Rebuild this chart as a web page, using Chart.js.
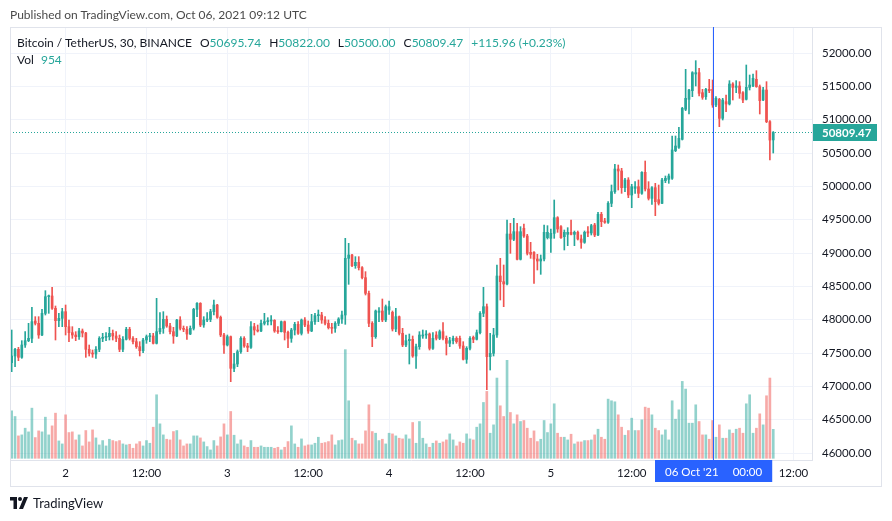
<!DOCTYPE html>
<html>
<head>
<meta charset="utf-8">
<script src="https://cdn.jsdelivr.net/npm/chart.js@4.4.1/dist/chart.umd.min.js"></script>
<style>
  html, body { margin: 0; padding: 0; background: #fff; }
  #wrap { position: relative; width: 892px; height: 521px; overflow: hidden; font-family: Lato, "Open Sans", sans-serif; }
  #chart { position: absolute; left: 0; top: 0; }
  #pub { position: absolute; left: 10px; top: 7px; font-size: 12px; color: #4a4a4a; }
  #legend { position: absolute; left: 17px; top: 34px; font-size: 12px; color: #131722; line-height: 17px; }
  #legend .v { color: #26a69a; }
  #legend .g { margin-left: 8px; }
  #brand { position: absolute; left: 10px; top: 495px; display: flex; align-items: center; font-size: 13px; color: #131722; }
  #brand svg { margin-right: 5px; }
</style>
</head>
<body>
<div id="wrap">
  <canvas id="chart" width="892" height="521"></canvas>
  <div id="pub">Published on TradingView.com, Oct 06, 2021 09:12 UTC</div>
  <div id="legend"><div id="l1"></div><div id="l2"></div></div>
  <div id="brand">
    <svg width="18" height="12" viewBox="0 0 36 24"><path d="M0 0h14v24H7V7H0z" fill="#131722"/><circle cx="20" cy="4" r="4" fill="#131722"/><path d="M28 0h8l-10 24h-8z" fill="#131722"/></svg>
    <span>TradingView</span>
  </div>
</div>
<script>
// BTCUSDT 30m candles, Oct 1 16:00 -> Oct 6 09:00 (UTC)
var opens = [
  47355,47455,47555,47435,47620,47685,47720,47980,47945,47770,
  48095,48345,48355,48170,47985,48020,48120,47895,47805,47770,
  47745,47830,47800,47555,47495,47485,47555,47720,47735,47745,
  47795,47755,47720,47555,47705,47855,47720,47670,47595,47535,
  47695,47745,47755,47645,47820,47870,48005,47905,47820,47755,
  47995,47870,47855,47785,47870,48155,48245,47920,47995,48005,
  48120,48220,48035,47770,47620,47745,47270,47335,47520,47720,
  47605,47585,47895,47845,47830,47945,47970,47980,47990,47830,
  47820,47970,47810,47720,47845,47930,47795,47995,47920,47830,
  47970,48060,48070,47995,47945,47880,47870,47945,48010,48070,
  48920,48970,48810,48860,48780,48630,48395,47945,47745,48110,
  48130,47995,48145,48110,47860,48045,47795,47620,47685,47705,
  47455,47595,47755,47770,47785,47570,47770,47720,47820,47720,
  47645,47685,47720,47720,47605,47405,47570,47735,47705,47805,
  48095,48195,47445,47495,47770,48655,48570,48535,49285,49205,
  49320,48905,49370,49255,49010,49010,48910,48880,48910,49230,
  49220,49295,49530,49395,49245,49280,49310,49280,49310,49210,
  49160,49320,49300,49420,49270,49580,49480,49460,49745,49920,
  50260,50230,49980,50095,49870,49970,49995,49895,50210,49960,
  49820,49980,49800,49745,50085,50105,50120,50535,50585,50705,
  51155,51305,51435,51685,51705,51405,51345,51455,51455,51220,
  51305,51020,51270,51235,51535,51485,51505,51405,51305,51485,
  51505,51605,51495,51295,51445,50970,50695.74
];
var highs = [
  47845,47570,47585,47685,47820,47945,48185,48045,48045,48155,
  48435,48370,48485,48205,48095,48170,48220,47995,47895,47820,
  47870,47860,47810,47620,47545,47595,47745,47795,47805,47885,
  47845,47820,47770,47745,47885,47885,47745,47720,47670,47720,
  47770,47795,47795,48320,48105,48120,48055,47945,47885,48005,
  48045,47905,47895,47905,48170,48255,48255,48045,48105,48155,
  48295,48230,48055,47795,47770,47755,47495,47545,47745,47745,
  47645,47970,47945,47920,47995,48095,48030,48060,48000,47895,
  47980,47980,47830,47870,47960,47970,48010,48030,47980,48080,
  48095,48145,48110,48045,47995,47945,47970,48030,48130,49220,
  49145,48980,48945,48945,48795,48720,48430,47970,48145,48180,
  48310,48220,48280,48130,48170,48055,47870,47770,47785,47755,
  47635,47820,47845,47835,47800,47805,47820,47845,47955,47755,
  47735,47755,47745,47755,47670,47595,47745,47755,47845,48120,
  48485,48235,47795,47870,48820,48920,48820,49495,49445,49520,
  49445,49395,49435,49280,49160,49020,48980,48970,49420,49410,
  49360,49795,49545,49410,49345,49380,49495,49330,49330,49270,
  49330,49395,49430,49445,49610,49610,49520,49770,50020,50330,
  50320,50270,50120,50130,50030,50070,50095,50220,50380,50070,
  49995,50045,50020,50120,50155,50185,50755,50755,50885,51185,
  51755,51455,51720,51885,51770,51455,51470,51605,51595,51345,
  51320,51320,51370,51585,51555,51585,51570,51420,51820,51670,
  51685,51735,51520,51485,51570,50985,50822
];
var lows = [
  47220,47295,47385,47420,47585,47670,47655,47920,47720,47760,
  48070,48095,48155,47695,47895,47895,47770,47670,47720,47685,
  47705,47740,47435,47455,47435,47420,47520,47670,47685,47695,
  47695,47670,47520,47520,47695,47695,47635,47570,47455,47505,
  47645,47670,47635,47635,47785,47795,47885,47785,47645,47745,
  47845,47820,47705,47775,47845,48045,47895,47885,47970,47970,
  48070,48020,47745,47495,47605,47070,47220,47295,47495,47585,
  47520,47570,47770,47815,47820,47920,47920,47920,47810,47795,
  47815,47695,47580,47660,47770,47780,47770,47895,47795,47820,
  47930,47970,47945,47920,47860,47795,47810,47910,47945,47930,
  48530,48795,48770,48745,48610,48370,47895,47595,47720,47970,
  47970,47970,48080,47830,47820,47770,47595,47595,47335,47435,
  47270,47555,47720,47720,47545,47555,47695,47700,47695,47470,
  47595,47635,47645,47570,47395,47345,47545,47655,47695,47785,
  48045,46950,47245,47455,47735,48295,48195,48520,48995,49185,
  48895,48895,49235,48970,48920,48545,48745,48680,48880,49210,
  49010,49220,49310,49220,49045,49110,49270,49110,49195,49070,
  49145,49245,49270,49245,49260,49395,49445,49445,49695,49895,
  49945,49895,49920,49830,49680,49895,49830,49880,49930,49795,
  49730,49560,49720,49740,50055,50045,50105,50520,50570,50695,
  51135,51085,51345,51505,51355,51305,51305,51405,51185,51195,
  50895,50995,51120,51220,51295,51405,51320,51255,51295,51445,
  51495,51485,51085,51285,50955,50395,50500
];
var closes = [
  47455,47555,47435,47620,47685,47720,47970,47945,47770,48095,
  48345,48355,48170,47985,48020,48120,47895,47805,47770,47745,
  47830,47800,47555,47495,47485,47555,47720,47735,47745,47795,
  47755,47720,47555,47705,47855,47720,47670,47595,47535,47695,
  47745,47755,47645,47820,47870,48005,47905,47820,47755,47995,
  47870,47855,47785,47870,48155,48245,47920,47995,48005,48120,
  48220,48035,47770,47620,47745,47270,47335,47520,47720,47605,
  47585,47895,47845,47830,47945,47970,47980,47990,47830,47820,
  47970,47810,47720,47845,47930,47795,47995,47920,47830,47970,
  48060,48070,47995,47945,47880,47870,47945,48010,48070,48920,
  48970,48810,48860,48780,48630,48395,47945,47745,48130,48130,
  47995,48195,48195,47860,48045,47795,47620,47685,47705,47455,
  47595,47770,47770,47785,47570,47720,47720,47820,47720,47645,
  47685,47720,47670,47605,47405,47570,47720,47705,47805,48095,
  48195,47445,47495,47770,48655,48570,48535,49285,49205,49320,
  48905,49320,49255,48995,48980,48910,48880,48910,49310,49310,
  49295,49530,49360,49230,49310,49310,49280,49310,49210,49160,
  49310,49300,49410,49270,49580,49470,49460,49745,49920,50260,
  50230,49980,50095,49870,49995,49995,49895,50210,49960,49820,
  49980,49770,49745,50095,50120,50155,50545,50605,50720,51170,
  51320,51445,51705,51705,51395,51335,51455,51435,51220,51320,
  51020,51295,51235,51535,51485,51505,51395,51295,51485,51520,
  51620,51495,51285,51445,50970,50693.51,50809.47
];
var volumes = [
  1562,1375,737,770,990,869,1650,682,902,869,
  1353,770,1067,1485,572,473,1430,847,869,605,
  770,407,913,539,935,671,440,583,407,627,
  583,550,583,473,440,462,330,473,550,407,
  583,495,1023,2090,1133,770,627,605,880,913,
  605,407,473,473,737,737,671,539,385,275,
  583,407,704,1133,770,1540,759,473,605,407,
  363,583,363,363,407,363,363,363,330,363,
  275,363,550,1067,473,363,638,407,440,440,
  495,693,495,517,550,770,440,583,605,3575,
  1892,660,583,473,473,902,1760,880,825,583,
  627,473,825,803,737,660,638,770,638,1177,
  495,1210,660,473,363,495,572,495,539,605,
  803,605,407,539,495,803,638,605,1023,1133,
  1837,2200,825,1100,2640,1727,1375,3223,1507,1133,
  1430,1210,1243,990,660,902,550,627,1243,847,
  1133,1793,825,693,693,605,792,473,539,539,
  583,583,605,770,957,693,627,1947,1892,1859,
  1430,1023,759,913,1320,913,913,1265,1683,1650,
  1430,990,913,770,935,605,1892,1287,1595,2530,
  2277,1155,1155,1760,1210,770,770,627,1243,693,
  1100,660,660,935,825,957,990,825,1793,2090,
  825,990,1463,1100,2057,2640,954
];

// time axis: 30m slots, slot 0 = Oct 1 16:00
var slotCount = 238;
var tickSlots = [16, 40, 64, 88, 112, 136, 160, 184, 208, 232];
var tickLabels = ['2', '12:00', '3', '12:00', '4', '12:00', '5', '12:00', "06 Oct '21", '12:00'];
var crossSlot = 208;
var crossText = ["06 Oct '21", '00:00'];
var priceTicks = [46000, 46500, 47000, 47500, 48000, 48500, 49000, 49500, 50000, 50500, 51000, 51500, 52000];

var up = '#26a69a', down = '#ef5350';
var upVol = 'rgba(38,166,154,0.5)', downVol = 'rgba(239,83,80,0.5)';
var fontFam = 'Lato, "Open Sans", sans-serif';

var n = closes.length;
var last = n - 1;
var isUp = closes.map(function (c, i) { return c >= opens[i]; });
var candleCol = isUp.map(function (u) { return u ? up : down; });
var volCol = isUp.map(function (u) { return u ? upVol : downVol; });

// legend text
var chg = closes[last] - closes[last - 1];
var pct = chg / closes[last - 1] * 100;
document.getElementById('l1').innerHTML =
  'Bitcoin / TetherUS, 30, BINANCE' +
  '<span class="g">O<span class="v">' + opens[last].toFixed(2) + '</span></span>' +
  '<span class="g">H<span class="v">' + highs[last].toFixed(2) + '</span></span>' +
  '<span class="g">L<span class="v">' + lows[last].toFixed(2) + '</span></span>' +
  '<span class="g">C<span class="v">' + closes[last].toFixed(2) + '</span></span>' +
  '<span class="g v">' + (chg >= 0 ? '+' : '') + chg.toFixed(2) + ' (' + (pct >= 0 ? '+' : '') + pct.toFixed(2) + '%)</span>';
document.getElementById('l2').innerHTML = 'Vol <span class="v" style="margin-left:4px">' + volumes[last] + '</span>';

var slots = [];
for (var s = 0; s < slotCount; s++) slots.push(String(s));

var overlay = {
  id: 'overlay',
  beforeDatasetsDraw: function (chart) {
    var ctx = chart.ctx, a = chart.chartArea, y = chart.scales.y;
    var py = Math.round(y.getPixelForValue(closes[last])) + 0.5;
    ctx.save();
    ctx.strokeStyle = up;
    ctx.lineWidth = 1;
    ctx.setLineDash([1, 2]);
    ctx.beginPath();
    ctx.moveTo(a.left, py);
    ctx.lineTo(a.right, py);
    ctx.stroke();
    ctx.restore();
  },
  afterDraw: function (chart) {
    var ctx = chart.ctx, a = chart.chartArea, x = chart.scales.x, y = chart.scales.y;
    ctx.save();
    // outer frame
    ctx.strokeStyle = '#e0e3eb';
    ctx.lineWidth = 1;
    ctx.strokeRect(a.left + 0.5, a.top + 0.5, y.right - a.left - 1, x.bottom - a.top - 1);
    // crosshair
    var cx = Math.round(x.getPixelForValue(crossSlot)) + 0.5;
    ctx.strokeStyle = '#2962ff';
    ctx.beginPath();
    ctx.moveTo(cx, a.top);
    ctx.lineTo(cx, a.bottom);
    ctx.stroke();
    // crosshair time tag
    ctx.font = '11.5px ' + fontFam;
    var w1 = ctx.measureText(crossText[0]).width;
    var w2 = ctx.measureText(crossText[1]).width;
    var gap = 14, pad = 10;
    var tw = w1 + gap + w2 + pad * 2;
    var bx = Math.round(cx - tw / 2);
    ctx.fillStyle = '#2962ff';
    ctx.fillRect(bx, a.bottom, tw, 22);
    ctx.fillStyle = '#fff';
    ctx.textBaseline = 'middle';
    ctx.textAlign = 'left';
    ctx.fillText(crossText[0], bx + pad, a.bottom + 12);
    ctx.fillText(crossText[1], bx + pad + w1 + gap, a.bottom + 12);
    // last price tag
    var py = Math.round(y.getPixelForValue(closes[last]));
    ctx.fillStyle = up;
    ctx.fillRect(a.right + 1, py - 8, 64, 17);
    ctx.fillStyle = '#fff';
    ctx.font = 'bold 11.5px ' + fontFam;
    ctx.fillText(closes[last].toFixed(2), a.right + 10, py + 1);
    ctx.restore();
  }
};

new Chart(document.getElementById('chart'), {
  type: 'bar',
  data: {
    labels: slots,
    datasets: [
      {
        label: 'Vol',
        data: volumes,
        yAxisID: 'yv',
        backgroundColor: volCol,
        barThickness: 2,
        grouped: false,
        order: 3
      },
      {
        label: 'wick',
        data: lows.map(function (l, i) { return [l, highs[i]]; }),
        yAxisID: 'y',
        backgroundColor: candleCol,
        barThickness: 1,
        grouped: false,
        order: 2
      },
      {
        label: 'body',
        data: opens.map(function (o, i) { return [Math.min(o, closes[i]), Math.max(o, closes[i])]; }),
        yAxisID: 'y',
        backgroundColor: candleCol,
        barThickness: 2,
        minBarLength: 1,
        grouped: false,
        order: 1
      }
    ]
  },
  options: {
    responsive: false,
    animation: false,
    events: [],
    layout: { padding: { left: 10, top: 27, right: 10, bottom: 34 } },
    plugins: { legend: { display: false }, tooltip: { enabled: false } },
    scales: {
      x: {
        type: 'category',
        offset: true,
        afterFit: function (sc) { sc.height = 27; },
        border: { display: true, color: '#e0e3eb' },
        grid: {
          offset: false,
          drawTicks: false,
          color: function (c) { return tickSlots.indexOf(c.index) >= 0 ? '#f0f3fa' : 'rgba(0,0,0,0)'; }
        },
        ticks: {
          autoSkip: false,
          maxRotation: 0,
          padding: 6,
          color: '#131722',
          font: { family: fontFam, size: 11.5 },
          callback: function (v, i) {
            var k = tickSlots.indexOf(i);
            return (k >= 0 && i !== crossSlot) ? tickLabels[k] : '';
          }
        }
      },
      y: {
        position: 'right',
        min: 45895,
        max: 52390,
        afterFit: function (sc) { sc.width = 70; },
        afterBuildTicks: function (sc) { sc.ticks = priceTicks.map(function (v) { return { value: v }; }); },
        border: { display: true, color: '#e0e3eb' },
        grid: { color: '#f0f3fa', drawTicks: false },
        ticks: {
          padding: 10,
          color: '#131722',
          font: { family: fontFam, size: 11.5 },
          callback: function (v) { return Number(v).toFixed(2); }
        }
      },
      yv: {
        display: false,
        min: -56,
        max: 14190
      }
    }
  },
  plugins: [overlay]
});
</script>
</body>
</html>
